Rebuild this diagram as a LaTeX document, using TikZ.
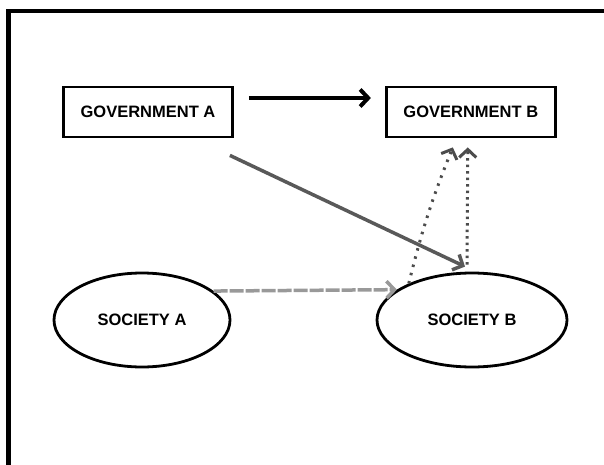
\documentclass[tikz,border=0pt]{standalone}
\usepackage{fontspec}
\setmainfont{Liberation Sans}
\usetikzlibrary{positioning,arrows.meta,shapes.geometric}

\begin{document}
\begin{tikzpicture}[x=1pt, y=-1pt, node distance={153pt},
        govbox/.style = {rectangle, draw, line width=2.8pt, minimum width=169pt, minimum height=50pt, font=\fontsize{16.5}{19}\selectfont\bfseries},
        socbox/.style = {ellipse, draw, line width=2.8pt, inner sep=0pt, font=\fontsize{16.5}{19}\selectfont\bfseries},
        tip/.style = {-{Straight Barb[length=8pt, width=17pt]}}]
        \useasboundingbox (0,0) rectangle (604,465);
        % outer frame, cut by the page on the right and at the bottom
        \draw[line width=4.5pt] (8.5,480) -- (8.5,11) -- (620,11);

        \node[govbox] (govA) at (148,112) {GOVERNMENT A};
        \node[govbox] (govB) [right=151pt of govA] {GOVERNMENT B};
        \node[socbox, minimum width=176pt, minimum height=94pt] (socA) at (142,320) {SOCIETY A};
        \node[socbox, minimum width=190pt, minimum height=94pt] (socB) at (472,320) {SOCIETY B};

        \draw[tip, line width=4pt, shorten <=15pt, shorten >=14pt] ([yshift=14pt]govA.east) -- ([yshift=14pt]govB.west);

        \draw[tip, black!65, line width=3.5pt] ([xshift=-4pt, yshift=-17pt]govA.south east) -- ([xshift=-7pt, yshift=5pt]socB.north);
        \draw[tip, black!40, line width=3.5pt, dashed, dash pattern=on 14pt off 2pt] (socA.22) -- (socB.158);

        \draw[tip, black!70, line width=3pt, dotted, dash pattern=on 2.5pt off 6pt] (socB.150) to [bend left=4] ([xshift=-18pt, yshift=-9pt]govB.south);
        \draw[tip, black!70, line width=3pt, dotted, dash pattern=on 2.5pt off 4pt] ([xshift=-5pt, yshift=7pt]socB.north) -- ([xshift=-3pt, yshift=-9pt]govB.south);
    \end{tikzpicture}
\end{document}
